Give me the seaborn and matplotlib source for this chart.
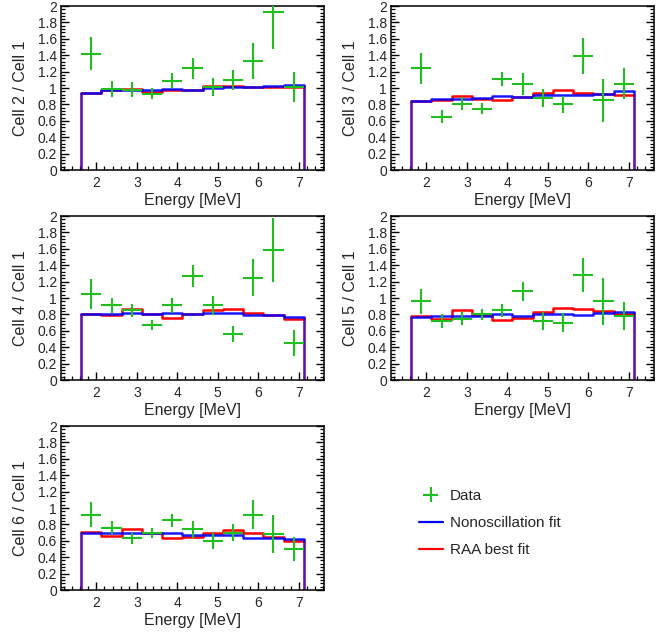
import numpy as np
import pandas as pd
import matplotlib
matplotlib.use("Agg")
import matplotlib.pyplot as plt
from matplotlib.ticker import MultipleLocator, FormatStrFormatter
from matplotlib.lines import Line2D
import seaborn as sns

# ---------------- data ----------------
bin_edges = [1.625, 2.125, 2.625, 3.125, 3.625, 4.125, 4.625, 5.125, 5.625, 6.125, 6.625, 7.125]
energy = [1.875, 2.375, 2.875, 3.375, 3.875, 4.375, 4.875, 5.375, 5.875, 6.375, 6.875]

cell_labels = ["Cell 2 / Cell 1", "Cell 3 / Cell 1", "Cell 4 / Cell 1",
               "Cell 5 / Cell 1", "Cell 6 / Cell 1"]

data_cell2 = [1.42, 0.99, 0.98, 0.93, 1.09, 1.24, 1.01, 1.10, 1.33, 1.93, 1.01]
err_cell2 = [0.20, 0.10, 0.09, 0.07, 0.09, 0.13, 0.11, 0.12, 0.22, 0.45, 0.18]
nonosc_cell2 = [0.94, 0.97, 0.98, 0.98, 0.99, 0.98, 1.00, 1.01, 1.01, 1.02, 1.04]
raa_cell2 = [0.94, 0.97, 0.99, 0.95, 0.97, 0.98, 1.02, 1.03, 1.01, 1.01, 1.01]

data_cell3 = [1.24, 0.65, 0.81, 0.75, 1.11, 1.05, 0.88, 0.80, 1.39, 0.85, 1.05]
err_cell3 = [0.19, 0.08, 0.08, 0.07, 0.09, 0.13, 0.11, 0.10, 0.22, 0.26, 0.19]
nonosc_cell3 = [0.84, 0.86, 0.87, 0.88, 0.90, 0.89, 0.91, 0.92, 0.92, 0.93, 0.96]
raa_cell3 = [0.84, 0.85, 0.90, 0.865, 0.85, 0.89, 0.94, 0.97, 0.94, 0.93, 0.92]

data_cell4 = [1.05, 0.91, 0.85, 0.67, 0.91, 1.27, 0.91, 0.56, 1.25, 1.59, 0.45]
err_cell4 = [0.18, 0.09, 0.08, 0.06, 0.09, 0.13, 0.12, 0.10, 0.22, 0.39, 0.16]
nonosc_cell4 = [0.80, 0.80, 0.82, 0.81, 0.82, 0.80, 0.82, 0.82, 0.79, 0.79, 0.77]
raa_cell4 = [0.80, 0.79, 0.87, 0.80, 0.76, 0.80, 0.85, 0.87, 0.82, 0.79, 0.75]

data_cell5 = [0.96, 0.72, 0.75, 0.80, 0.85, 1.08, 0.72, 0.70, 1.28, 0.96, 0.78]
err_cell5 = [0.15, 0.08, 0.08, 0.07, 0.08, 0.12, 0.11, 0.12, 0.21, 0.29, 0.17]
nonosc_cell5 = [0.77, 0.78, 0.78, 0.78, 0.80, 0.78, 0.80, 0.80, 0.79, 0.82, 0.83]
raa_cell5 = [0.78, 0.75, 0.85, 0.79, 0.73, 0.75, 0.83, 0.88, 0.86, 0.84, 0.81]

data_cell6 = [0.92, 0.76, 0.63, 0.70, 0.85, 0.74, 0.60, 0.70, 0.92, 0.68, 0.50]
err_cell6 = [0.15, 0.08, 0.07, 0.06, 0.08, 0.10, 0.10, 0.10, 0.18, 0.23, 0.15]
nonosc_cell6 = [0.70, 0.70, 0.70, 0.70, 0.69, 0.67, 0.67, 0.67, 0.64, 0.63, 0.62]
raa_cell6 = [0.71, 0.66, 0.75, 0.70, 0.63, 0.65, 0.69, 0.73, 0.70, 0.65, 0.60]

panels = [
    (data_cell2, err_cell2, nonosc_cell2, raa_cell2),
    (data_cell3, err_cell3, nonosc_cell3, raa_cell3),
    (data_cell4, err_cell4, nonosc_cell4, raa_cell4),
    (data_cell5, err_cell5, nonosc_cell5, raa_cell5),
    (data_cell6, err_cell6, nonosc_cell6, raa_cell6),
]

# ---------------- style ----------------
sns.set_theme(style="ticks")
plt.rcParams["font.family"] = ["Liberation Sans", "DejaVu Sans"]
plt.rcParams["axes.linewidth"] = 1.1
plt.rcParams["xtick.direction"] = "in"
plt.rcParams["ytick.direction"] = "in"

GREEN = "#1fbf1f"
BLUE = "#0000ff"
RED = "#ff0000"

W, H = 672, 635
fig = plt.figure(figsize=(W / 100, H / 100), dpi=100)

col_left = [61, 391]
row_bottom = [170, 380, 590]
ax_w, ax_h = 263, 164

edges = np.array(bin_edges)
half_width = np.diff(edges) / 2
xmin = edges[0] - (edges[1] - edges[0])
xmax = edges[-1] + (edges[-1] - edges[-2])

handles = None
for i, (dat, err, non, raa) in enumerate(panels):
    r, c = divmod(i, 2)
    ax = fig.add_axes([col_left[c] / W, (H - row_bottom[r]) / H, ax_w / W, ax_h / H])

    df = pd.DataFrame({"energy": energy, "raa": raa, "non": non})
    sns.histplot(data=df, x="energy", weights="raa", bins=list(bin_edges),
                 element="step", fill=False, color=RED, linewidth=1.8, ax=ax)
    sns.histplot(data=df, x="energy", weights="non", bins=list(bin_edges),
                 element="step", fill=False, color=BLUE, linewidth=1.8,
                 alpha=0.9, ax=ax)
    # drop edges of the histograms to zero (ROOT-style outline)
    ax.vlines([edges[0], edges[-1]], 0, [non[0], non[-1]], color=BLUE,
              linewidth=1.8, alpha=0.9)
    ax.vlines([edges[0], edges[-1]], 0, [raa[0], raa[-1]], color=RED,
              linewidth=1.8, alpha=0.35)

    eb = ax.errorbar(energy, dat, xerr=half_width, yerr=err, fmt="none",
                     ecolor=GREEN, elinewidth=1.5, capsize=0, zorder=5)

    ax.set_xlim(xmin, xmax)
    ax.set_ylim(0, 2)
    ax.xaxis.set_major_locator(MultipleLocator(1))
    ax.xaxis.set_minor_locator(MultipleLocator(0.2))
    ax.yaxis.set_major_locator(MultipleLocator(0.2))
    ax.yaxis.set_minor_locator(MultipleLocator(0.04))
    ax.yaxis.set_major_formatter(FormatStrFormatter("%g"))
    ax.tick_params(which="both", direction="in", left=True, right=True,
                   bottom=True, top=False, labelsize=10, color="black")
    ax.tick_params(which="major", length=5.5, width=1.0, pad=3)
    ax.tick_params(which="minor", length=2.6, width=0.9)
    ax.tick_params(axis="x", which="major", pad=4.5)
    ax.set_xlabel("Energy [MeV]", fontsize=11.5, labelpad=2)
    ax.set_ylabel(cell_labels[i], fontsize=11.5, labelpad=7)
    for s in ax.spines.values():
        s.set_color("black")
        s.set_linewidth(1.1)

    if handles is None:
        handles = [eb,
                   Line2D([], [], color=BLUE, linewidth=1.6),
                   Line2D([], [], color=RED, linewidth=1.6)]

fig.legend(handles, ["Data", "Nonoscillation fit", "RAA best fit"],
           loc="upper left", bbox_to_anchor=(419 / W, 1 - 489 / H),
           frameon=False, fontsize=11, handlelength=1.55, handletextpad=0.45,
           labelspacing=0.86, borderpad=0, borderaxespad=0)

fig.savefig("out.png", dpi=100)
